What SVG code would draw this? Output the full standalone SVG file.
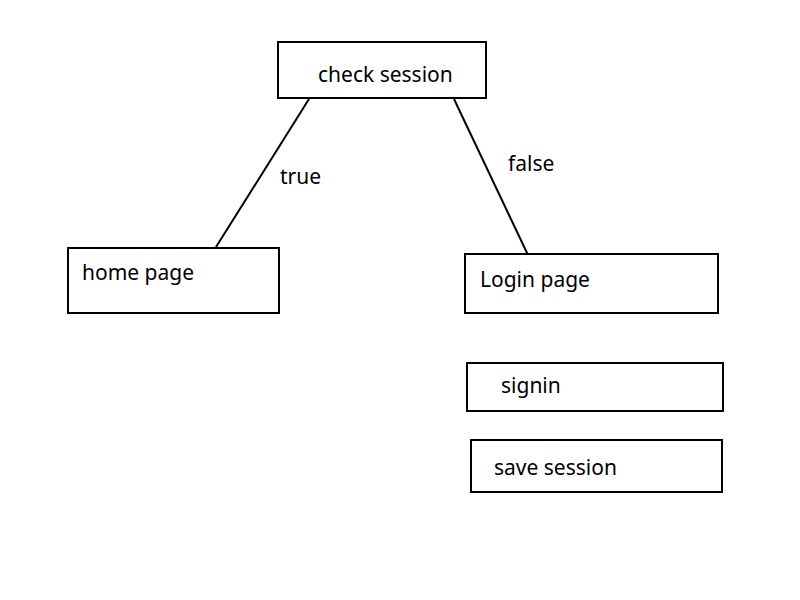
<svg xmlns="http://www.w3.org/2000/svg" width="800" height="600" viewBox="0 0 800 600">
<style>
.box{fill:#fff;stroke:#000;stroke-width:2}
.edge{stroke:#000;stroke-width:2;fill:none}
text{font-family:"Noto Sans","Open Sans",sans-serif;font-size:21px;fill:#000}
</style>
<rect width="800" height="600" fill="#fff"/>
<g id="connectors">
<line class="edge" x1="309" y1="99" x2="216" y2="247"/>
<line class="edge" x1="454" y1="99" x2="528" y2="255"/>
<text x="280" y="184">true</text>
<text x="508" y="171">false</text>
</g>
<g id="check-session"><rect class="box" x="278" y="42" width="208" height="56"/><text x="318" y="82">check session</text></g>
<g id="home-page"><rect class="box" x="68" y="248" width="211" height="65"/><text x="82" y="280">home page</text></g>
<g id="login-page"><rect class="box" x="465" y="254" width="253" height="59"/><text x="480" y="287">Login page</text></g>
<g id="signin"><rect class="box" x="467" y="363" width="256" height="48"/><text x="501" y="393">signin</text></g>
<g id="save-session"><rect class="box" x="471" y="440" width="251" height="52"/><text x="494" y="475">save session</text></g>
</svg>
